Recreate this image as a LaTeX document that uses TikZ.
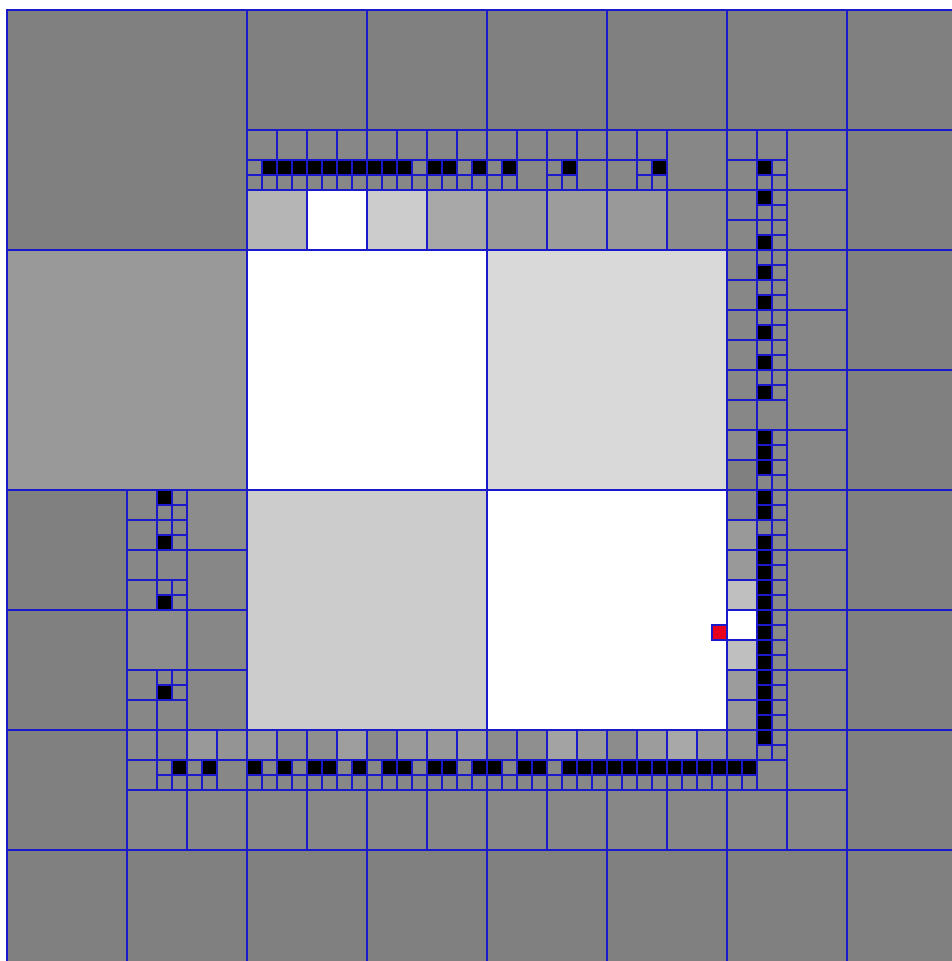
\documentclass[tikz,border=0pt]{standalone}
\usepackage{tikz}
\definecolor{gridblue}{HTML}{1A1ACC}
\definecolor{hitred}{HTML}{E8001C}

\begin{document}
\begin{tikzpicture}[x=0.4cm,y=-0.4cm,
  cell/.style={draw=gridblue,line width=1.15pt}]
        \useasboundingbox (-0.467,-0.667) rectangle (63,63.4);
        \clip (-0.467,-0.667) rectangle (63,63.4);
        % level 16
        \foreach \x/\y/\c in {0/0/50,0/16/40,16/16/0,32/16/15,16/32/20,32/32/0}
          \filldraw[cell,fill=black!\c] (\x,\y) rectangle ++(16,16);
        % level 8
        \foreach \x/\y in {16/0,24/0,32/0,40/0,48/0,56/0,56/8,56/16,56/24,56/32,56/40,56/48,56/56,
                           0/32,0/40,0/48,0/56,8/56,16/56,24/56,32/56,40/56,48/56}
          \filldraw[cell,fill=black!50] (\x,\y) rectangle ++(8,8);
        % level 4
        \foreach \x/\y/\c in {44/8/47,16/12/29,20/12/0,24/12/20,28/12/34,32/12/40,36/12/39,40/12/40,44/12/45,
                              12/32/45,12/36/47,8/40/45,12/40/47,12/44/47}
          \filldraw[cell,fill=black!\c] (\x,\y) rectangle ++(4,4);
        \foreach \y in {8,12,...,52}
          \filldraw[cell,fill=black!47] (52,\y) rectangle ++(4,4);
        \foreach \x in {8,12,...,48}
          \filldraw[cell,fill=black!47] (\x,52) rectangle ++(4,4);
        % level 2
        \foreach \x in {16,18,...,42}
          \filldraw[cell,fill=black!47] (\x,8) rectangle ++(2,2);
        \foreach \x/\y in {48/8,50/8,34/10,38/10,40/10,50/26,50/50,8/50,14/50,
                           8/32,8/34,8/36,8/38,8/44,8/46,10/36,10/46}
          \filldraw[cell,fill=black!47] (\x,\y) rectangle ++(2,2);
        \foreach \y/\c in {10/47,12/47,14/47,16/47,18/47,20/47,22/47,24/47,26/47,28/45,30/50,32/47,
                           34/40,36/40,38/25,40/0,42/25,44/39,46/40,48/45}
          \filldraw[cell,fill=black!\c] (48,\y) rectangle ++(2,2);
        \foreach \x/\c in {8/46,10/47,12/40,14/42,16/40,18/44,20/44,22/38,24/46,26/40,28/40,30/39,
                           32/45,34/44,36/36,38/40,40/45,42/39,44/34,46/40}
          \filldraw[cell,fill=black!\c] (\x,48) rectangle ++(2,2);
        % level 1, top strip
        \foreach \x in {16,...,33}
          \foreach \y in {10,11}
            \filldraw[cell,fill=black!47] (\x,\y) rectangle ++(1,1);
        \foreach \x in {36,37,42,43}
          \foreach \y in {10,11}
            \filldraw[cell,fill=black!47] (\x,\y) rectangle ++(1,1);
        % level 1, right strip
        \foreach \y in {10,...,25}
          \foreach \x in {50,51}
            \filldraw[cell,fill=black!47] (\x,\y) rectangle ++(1,1);
        \foreach \y in {28,...,49}
          \foreach \x in {50,51}
            \filldraw[cell,fill=black!47] (\x,\y) rectangle ++(1,1);
        % level 1, left strip
        \foreach \y in {32,33,34,35,38,39,44,45}
          \foreach \x in {10,11}
            \filldraw[cell,fill=black!47] (\x,\y) rectangle ++(1,1);
        % level 1, bottom strip
        \foreach \x in {10,11,12,13}
          \foreach \y in {50,51}
            \filldraw[cell,fill=black!47] (\x,\y) rectangle ++(1,1);
        \foreach \x in {16,...,49}
          \foreach \y in {50,51}
            \filldraw[cell,fill=black!47] (\x,\y) rectangle ++(1,1);
        % boundary cells
        \foreach \x in {17,18,19,20,21,22,23,24,25,26,28,29,31,33,37,43}
          \filldraw[cell,fill=black] (\x,10) rectangle ++(1,1);
        \foreach \y in {10,12,15,17,19,21,23,25,28,29,30,32,33,35,36,37,38,39,40,41,42,43,44,45,46,47,48}
          \filldraw[cell,fill=black] (50,\y) rectangle ++(1,1);
        \foreach \y in {32,35,39,45}
          \filldraw[cell,fill=black] (10,\y) rectangle ++(1,1);
        \foreach \x in {11,13,16,18,20,21,23,25,26,28,29,31,32,34,35,37,38,39,40,41,42,43,44,45,46,47,48,49}
          \filldraw[cell,fill=black] (\x,50) rectangle ++(1,1);
        % current cell
        \filldraw[cell,fill=hitred] (47,41) rectangle ++(1,1);
      \end{tikzpicture}
\end{document}
